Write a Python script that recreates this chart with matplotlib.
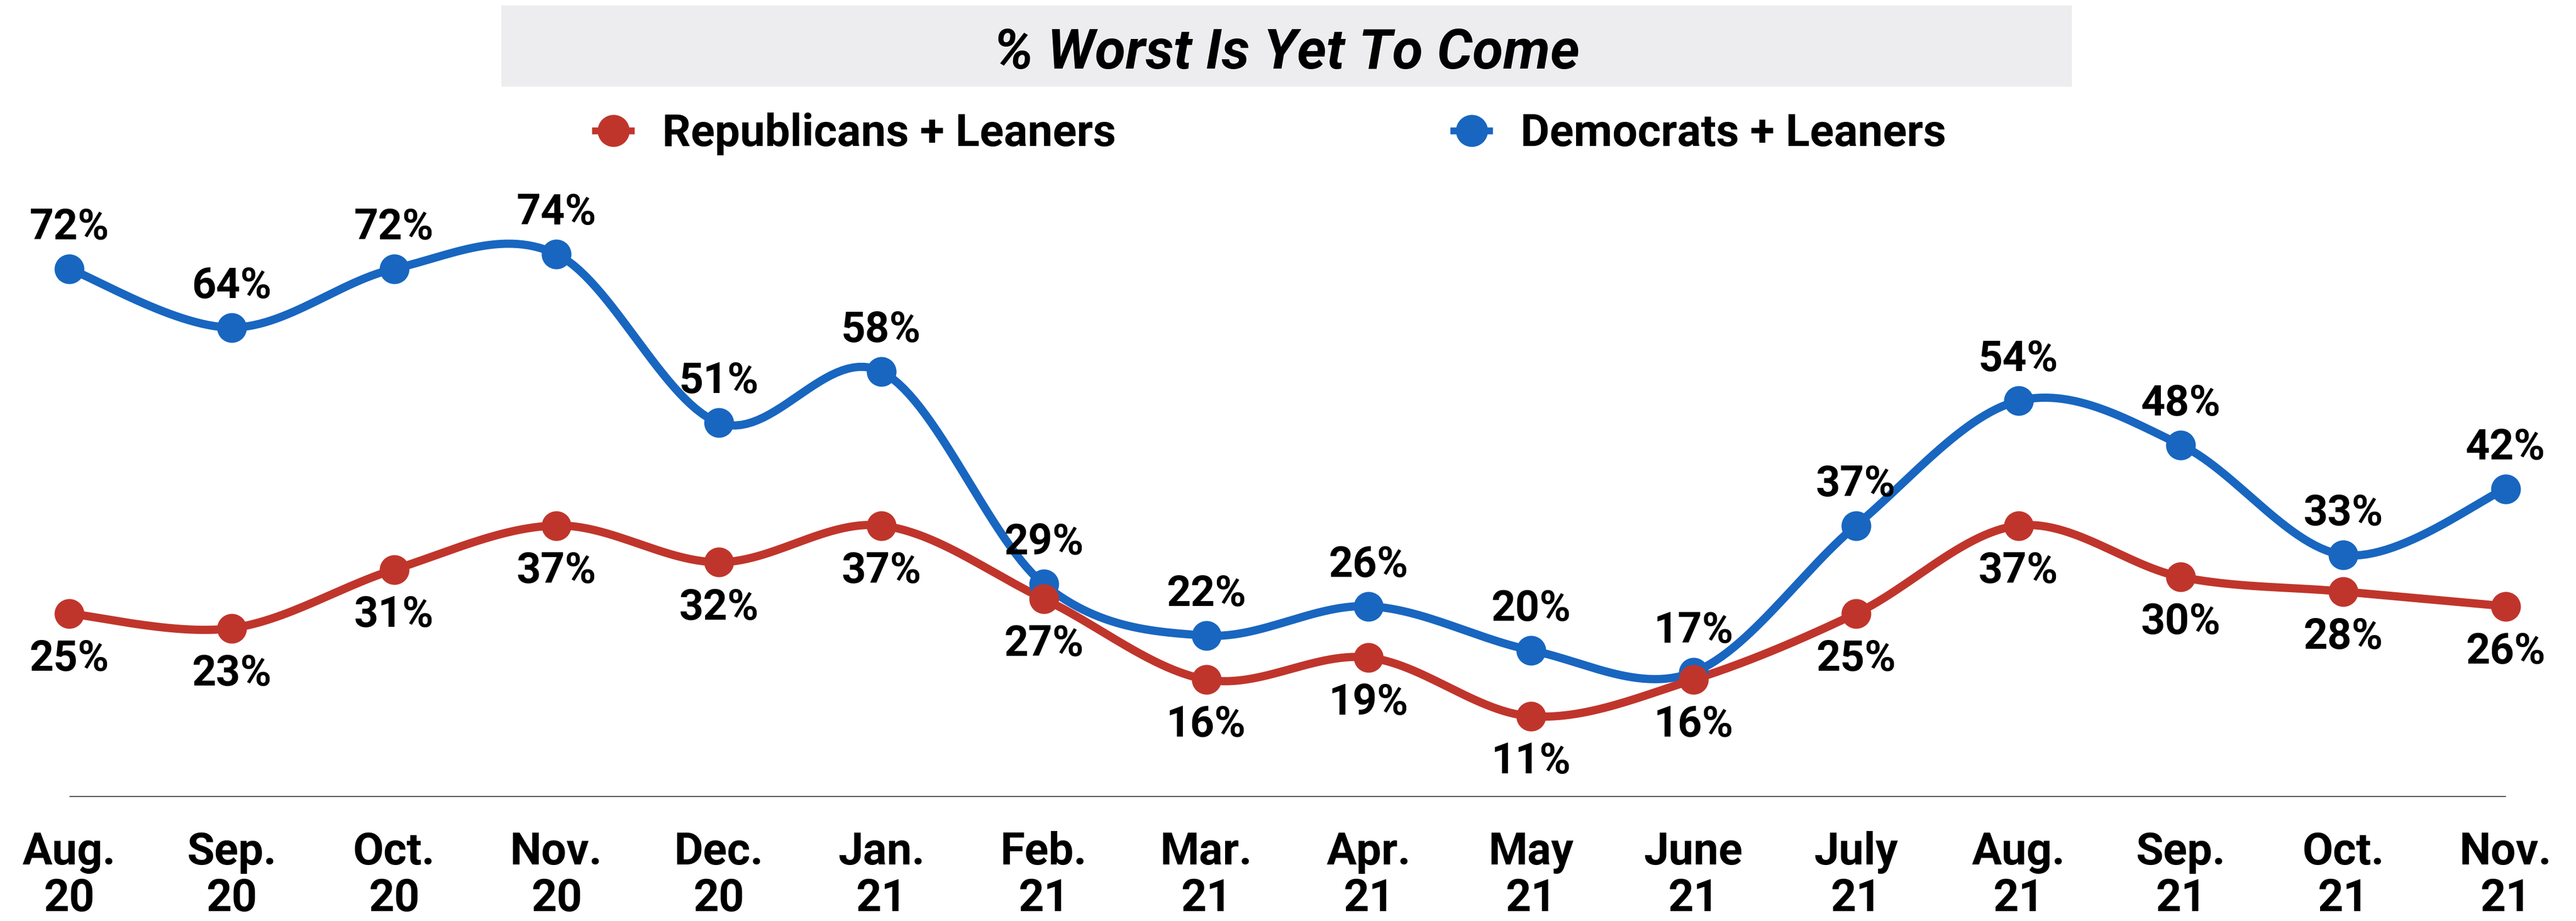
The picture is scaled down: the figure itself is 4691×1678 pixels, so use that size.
import numpy as np
import matplotlib.pyplot as plt
from matplotlib.patches import Rectangle
from matplotlib.lines import Line2D

# data
months = ['Aug.\n20', 'Sep.\n20', 'Oct.\n20', 'Nov.\n20', 'Dec.\n20', 'Jan.\n21', 'Feb.\n21', 'Mar.\n21',
          'Apr.\n21', 'May\n21', 'June\n21', 'July\n21', 'Aug.\n21', 'Sep.\n21', 'Oct.\n21', 'Nov.\n21']
republicans = [25, 23, 31, 37, 32, 37, 27, 16, 19, 11, 16, 25, 37, 30, 28, 26]
democrats = [72, 64, 72, 74, 51, 58, 29, 22, 26, 20, 17, 37, 54, 48, 33, 42]
series_names = ['Republicans + Leaners', 'Democrats + Leaners']

RED = '#C0352B'
BLUE = '#1866C0'

plt.rcParams['font.family'] = ['Roboto', 'DejaVu Sans']
plt.rcParams['font.weight'] = 'bold'


def smooth(y, steps=30):
    # excel-like smoothed line: cubic bezier with catmull-rom control points
    x = np.arange(len(y), dtype=float)
    y = np.asarray(y, dtype=float)
    px = np.concatenate([[x[0]], x, [x[-1]]])
    py = np.concatenate([[y[0]], y, [y[-1]]])
    t = np.linspace(0, 1, steps)
    xs, ys = [], []
    for i in range(len(y) - 1):
        p0 = np.array([px[i + 1], py[i + 1]])
        p3 = np.array([px[i + 2], py[i + 2]])
        c1 = p0 + (p3 - np.array([px[i], py[i]])) / 6
        c2 = p3 - (np.array([px[i + 3], py[i + 3]]) - p0) / 6
        pts = ((1 - t)[:, None] ** 3 * p0 + 3 * ((1 - t) ** 2 * t)[:, None] * c1
               + 3 * ((1 - t) * t ** 2)[:, None] * c2 + (t ** 3)[:, None] * p3)
        xs.extend(pts[:, 0])
        ys.extend(pts[:, 1])
    return np.array(xs), np.array(ys)


fig = plt.figure(figsize=(4691 / 300, 1678 / 300), dpi=300)
ax = fig.add_axes([0, 0.1347, 1, 0.8212 - 0.1347])
x = np.arange(len(months))

for vals, col in [(democrats, BLUE), (republicans, RED)]:
    sx, sy = smooth(vals)
    ax.plot(sx, sy, color=col, lw=3.6, solid_capstyle='round', zorder=3)
    ax.plot(x, vals, 'o', color=col, ms=12, zorder=4)

for i in range(len(months)):
    ax.annotate(f'{democrats[i]}%', (x[i], democrats[i]), xytext=(0, 18), textcoords='offset points',
                ha='center', va='center', fontsize=18.5, fontweight='bold', zorder=5)
    ax.annotate(f'{republicans[i]}%', (x[i], republicans[i]), xytext=(0, -20), textcoords='offset points',
                ha='center', va='center', fontsize=18.5, fontweight='bold', zorder=5)

ax.hlines(0, x[0], x[-1], color='#404040', lw=1.1, zorder=2)

ax.set_xlim(-0.426, 15.433)
ax.set_ylim(0, 86.2)
ax.set_xticks(x)
ax.set_xticklabels(months, fontsize=19.5, fontweight='bold', linespacing=1.1)
ax.tick_params(axis='x', length=0, pad=15)
ax.set_yticks([])
for s in ax.spines.values():
    s.set_visible(False)

# title box
fig.patches.append(Rectangle((915 / 4691, 1 - 156 / 1678), (3771 - 915) / 4691, 144 / 1678,
                             transform=fig.transFigure, color='#EDEDEF', zorder=0))
fig.text(2343 / 4691, 1 - 97 / 1678, '% Worst Is Yet To Come', ha='center', va='center',
         fontsize=24.5, fontweight='bold', style='italic')

# legend, one entry at a time so each sits where the reference has it
for name, col, cx in [(series_names[0], RED, 1116), (series_names[1], BLUE, 2679)]:
    h = Line2D([], [], color=col, lw=3, marker='o', ms=13)
    fig.legend([h], [name], loc='center left', bbox_to_anchor=((cx - 32) / 4691, 1 - 244 / 1678),
               frameon=False, fontsize=19.5, handlelength=0.8, handletextpad=0.7,
               borderpad=0, borderaxespad=0)

fig.savefig('out.png', dpi=300)
